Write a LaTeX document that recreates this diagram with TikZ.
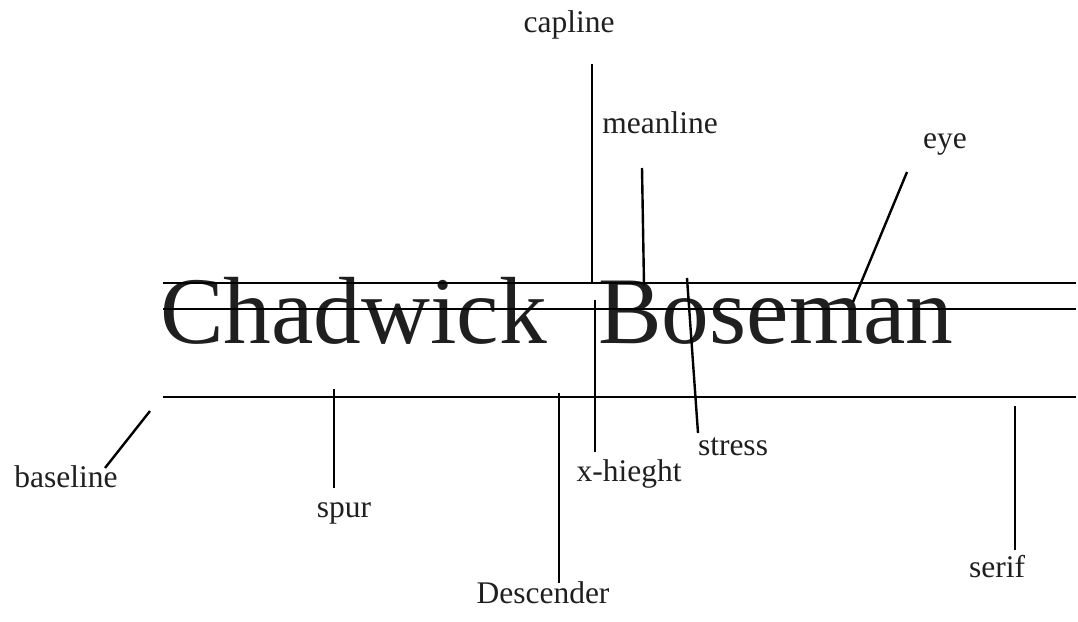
\documentclass[tikz,border=0pt]{standalone}
\usepackage{fontspec}
\setmainfont{Liberation Serif}
\usepackage{tikz}

\begin{document}
\begin{tikzpicture}[x=1pt, y=-1pt,
  lbl/.style = {anchor=base, inner sep=0pt, font=\fontsize{31.5}{36}\selectfont, text=black!88},
  word/.style = {anchor=base west, inner sep=0pt, font=\fontsize{95.4}{110}\selectfont, text=black!88},
  guide/.style = {line width=2.7pt},
  pointer/.style = {line width=2.4pt}]
\useasboundingbox (0,0) rectangle (1078,621);
% the words
\node[word] (chadwick) at (160,343) {Chadwick};
\node[word] (boseman) at (598,343) {Boseman};
% labels
\node[lbl] (capline) at (569,32) {capline};
\node[lbl] (meanline) at (660,133) {meanline};
\node[lbl] (eye) at (945,148) {eye};
\node[lbl] (stress) at (733,455) {stress};
\node[lbl] (xheight) at (629,481) {x-hieght};
\node[lbl] (descender) at (543,603) {Descender};
\node[lbl] (baseline) at (66,487) {baseline};
\node[lbl] (spur) at (344,517) {spur};
\node[lbl] (serif) at (997,577) {serif};
% guide lines
\coordinate (cap-l) at (163,283);
\coordinate (cap-r) at (1076,283);
\coordinate (mean-l) at (163,309);
\coordinate (mean-r) at (1076,309);
\coordinate (base-l) at (163,397);
\coordinate (base-r) at (1076,397);
\draw[guide] (cap-l) -- (cap-r);
\draw[guide] (mean-l) -- (mean-r);
\draw[guide] (base-l) -- (base-r);
% pointer ends
\coordinate (p-cap1) at (592,64);
\coordinate (p-cap2) at (592,284);
\coordinate (p-mean1) at (642,168);
\coordinate (p-mean2) at (644,285);
\coordinate (p-eye1) at (907,172);
\coordinate (p-eye2) at (853,302);
\coordinate (p-stress1) at (687,278);
\coordinate (p-stress2) at (698,433);
\coordinate (p-x1) at (595,300);
\coordinate (p-x2) at (595,452);
\coordinate (p-desc1) at (559,393);
\coordinate (p-desc2) at (559,583);
\coordinate (p-base1) at (150,411);
\coordinate (p-base2) at (105,468);
\coordinate (p-spur1) at (334,389);
\coordinate (p-spur2) at (334,488);
\coordinate (p-serif1) at (1015,406);
\coordinate (p-serif2) at (1015,550);
\draw[pointer] (p-cap1) -- (p-cap2);
\draw[pointer] (p-mean1) -- (p-mean2);
\draw[pointer] (p-eye1) -- (p-eye2);
\draw[pointer] (p-stress1) -- (p-stress2);
\draw[pointer] (p-x1) -- (p-x2);
\draw[pointer] (p-desc1) -- (p-desc2);
\draw[pointer] (p-base1) -- (p-base2);
\draw[pointer] (p-spur1) -- (p-spur2);
\draw[pointer] (p-serif1) -- (p-serif2);
\end{tikzpicture}
\end{document}
